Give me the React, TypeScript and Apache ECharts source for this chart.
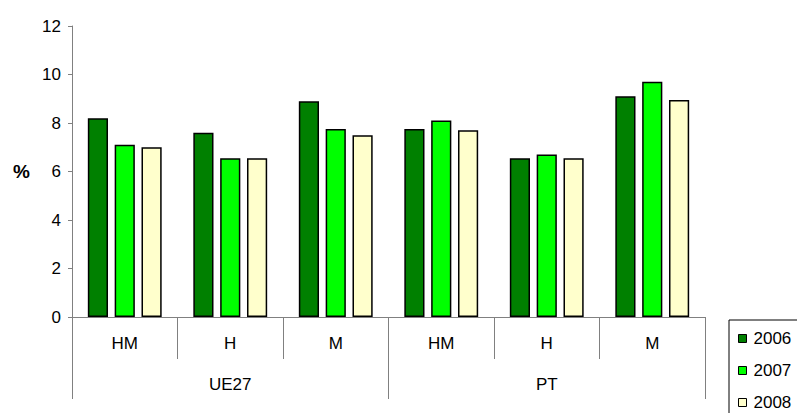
import React, { useEffect, useRef } from "react";
import * as echarts from "echarts";

// Sub-categories (first axis level) and their groups (second axis level)
const subCategories = ["HM", "H", "M", "HM", "H", "M"];
const groups = ["UE27", "PT"];

// Percent values per year
const years = ["2006", "2007", "2008"];
const values2006 = [8.2, 7.6, 8.9, 7.75, 6.55, 9.1];
const values2007 = [7.1, 6.55, 7.75, 8.1, 6.7, 9.7];
const values2008 = [7.0, 6.55, 7.5, 7.7, 6.55, 8.95];

const yTicks = { min: 0, max: 12, interval: 2 };
const colors = ["#008000", "#00FF00", "#FFFFCC"];

const FONT = "Liberation Sans, Arial, sans-serif";
const AXIS_GRAY = "#808080";

export default function App() {
  const ref = useRef<HTMLDivElement>(null);

  useEffect(() => {
    if (!ref.current) return;
    const chart = echarts.init(ref.current, undefined, { renderer: "svg" });
    const seriesValues = [values2006, values2007, values2008];

    chart.setOption({
      animation: false,
      backgroundColor: "#ffffff",
      textStyle: { fontFamily: FONT },
      grid: { left: 72, right: 92, top: 26, bottom: 96 },
      legend: {
        orient: "vertical",
        left: 729,
        top: 320,
        height: 120,
        padding: [10, 12, 10, 9],
        itemGap: 15,
        itemWidth: 8,
        itemHeight: 8,
        icon: "rect",
        borderColor: "#000000",
        borderWidth: 1,
        textStyle: { fontFamily: FONT, fontSize: 17, color: "#000", padding: [0, 0, 0, 2] },
        data: years.map((y, i) => ({
          name: y,
          itemStyle: { color: colors[i], borderColor: "#000", borderWidth: 1 },
        })),
      },
      xAxis: [
        {
          type: "category",
          data: subCategories,
          position: "bottom",
          axisLine: { show: true, lineStyle: { color: AXIS_GRAY, width: 1 } },
          axisTick: { show: true, length: 42, interval: 0, lineStyle: { color: AXIS_GRAY } },
          axisLabel: { interval: 0, margin: 18, fontSize: 17, color: "#000", fontFamily: FONT },
        },
        {
          type: "category",
          data: groups,
          position: "bottom",
          axisLine: { show: false },
          axisTick: { show: true, length: 82, interval: 0, lineStyle: { color: AXIS_GRAY } },
          axisLabel: { interval: 0, margin: 59, fontSize: 17, color: "#000", fontFamily: FONT },
        },
      ],
      yAxis: {
        type: "value",
        min: yTicks.min,
        max: yTicks.max,
        interval: yTicks.interval,
        name: "%",
        nameLocation: "middle",
        nameRotate: 0,
        nameGap: 42,
        nameTextStyle: { fontSize: 19, fontWeight: "bold", color: "#000", fontFamily: FONT },
        splitLine: { show: false },
        axisLine: { show: true, lineStyle: { color: AXIS_GRAY, width: 1 } },
        axisTick: { show: true, length: 4, lineStyle: { color: AXIS_GRAY } },
        axisLabel: { margin: 11, fontSize: 17, color: "#000", fontFamily: FONT },
      },
      series: years.map((y, i) => ({
        name: y,
        type: "bar",
        xAxisIndex: 0,
        data: seriesValues[i],
        barGap: "33%",
        barCategoryGap: "30%",
        itemStyle: { color: colors[i], borderColor: "#000000", borderWidth: 1.5 },
      })),
    });

    return () => chart.dispose();
  }, []);

  return (
    <div
      ref={ref}
      style={{ position: "fixed", left: 0, top: 0, width: 797, height: 413, background: "#fff" }}
    />
  );
}
